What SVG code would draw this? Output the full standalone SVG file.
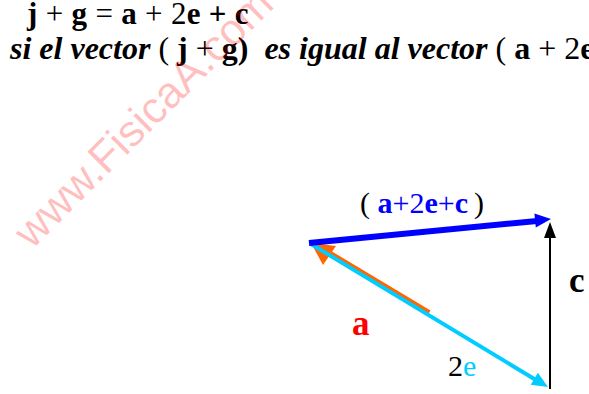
<svg xmlns="http://www.w3.org/2000/svg" width="589" height="394" viewBox="0 0 589 394">
<style>
text{font-family:"Liberation Serif","Times New Roman",serif;}
.b{font-weight:bold;}
.n{font-weight:normal;font-style:normal;}
.bi{font-weight:bold;font-style:italic;}
.blue{fill:#0000ff;}
.wm{font-family:"Liberation Sans",Arial,sans-serif;font-size:44px;fill:#ff0000;fill-opacity:0.25;}
</style>
<rect width="589" height="394" fill="#ffffff"/>
<g id="title">
<text x="27" y="24" font-size="31" xml:space="preserve" letter-spacing="0.3"><tspan class="b">j</tspan> + <tspan class="b">g</tspan> = <tspan class="b">a</tspan> + 2<tspan class="b">e</tspan><tspan class="b"> + c</tspan></text>
<text x="10" y="59" font-size="32" xml:space="preserve"><tspan class="bi">si el vector </tspan><tspan class="n">( </tspan><tspan class="b">j</tspan><tspan class="n"> + </tspan><tspan class="b">g)</tspan><tspan class="bi">  es igual al vector </tspan><tspan class="n">( </tspan><tspan class="b">a</tspan><tspan class="n"> + 2</tspan><tspan class="b">e</tspan></text>
</g>
<g id="connectors">
<line x1="429" y1="313" x2="322" y2="249" stroke="#ff6600" stroke-width="6"/>
<polygon points="311,243 336,246 323,265" fill="#ff6600"/>
<line x1="311" y1="244" x2="536" y2="380" stroke="#00ccff" stroke-width="4"/>
<polygon points="548,387 530.7,384.7 537.9,372.7" fill="#00ccff"/>
<line x1="309" y1="243" x2="537" y2="221" stroke="#0000ff" stroke-width="6"/>
<polygon points="551,219 535.8,227.6 534.4,213.6" fill="#0000ff"/>
<line x1="550" y1="389" x2="550" y2="236" stroke="#000000" stroke-width="2"/>
<polygon points="550,222 544,238 556,238" fill="#000000"/>
</g>
<g id="label-sum">
<text x="360" y="213" font-size="30" xml:space="preserve">( <tspan class="blue"><tspan class="b">a</tspan>+2<tspan class="b">e</tspan>+<tspan class="b">c</tspan></tspan><tspan x="474">)</tspan></text>
</g>
<g id="label-c"><text x="569" y="292" font-size="35" class="b">c</text></g>
<g id="label-a"><text x="352" y="335" font-size="35" class="b" fill="#ff0000">a</text></g>
<g id="label-2e"><text x="448" y="376" font-size="30">2<tspan fill="#00ccff">e</tspan></text></g>
<text class="wm" x="0" y="0" transform="translate(32,250) rotate(-45)">www.FisicaA.com</text>
</svg>
